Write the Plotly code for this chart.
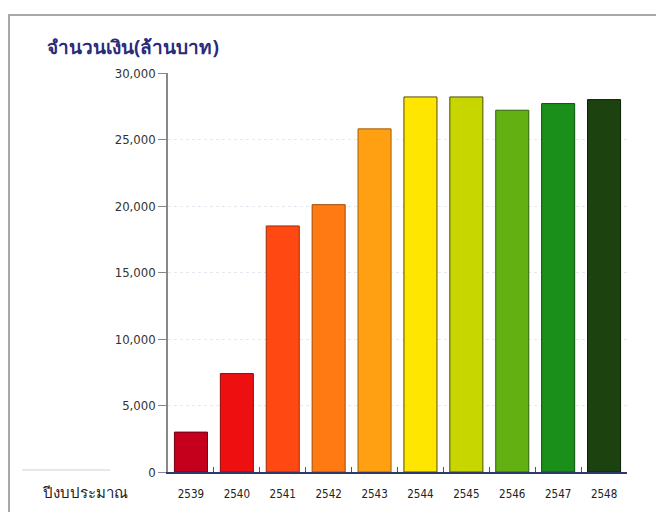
import plotly.graph_objects as go

years = ["2539", "2540", "2541", "2542", "2543", "2544", "2545", "2546", "2547", "2548"]
amounts = [3000, 7400, 18500, 20100, 25800, 28200, 28200, 27200, 27700, 28000]
bar_colors = ["#c4001c", "#ee1010", "#ff4812", "#ff7a12", "#ffa012",
              "#ffe600", "#c8d600", "#62b012", "#1a901a", "#1c4210"]
edge_colors = ["#700010", "#900808", "#a02a08", "#a04a08", "#a06008",
               "#5a4a00", "#4a5000", "#306008", "#0a500a", "#0a2006"]
y_ticks = [0, 5000, 10000, 15000, 20000, 25000, 30000]
y_tick_labels = ["0", "5,000", "10,000", "15,000", "20,000", "25,000", "30,000"]

fig = go.Figure()
fig.add_trace(go.Bar(
    x=years, y=amounts,
    marker=dict(color=bar_colors, line=dict(color=edge_colors, width=1)),
    width=0.72,
))

fig.update_layout(
    width=664, height=512,
    margin=dict(l=160, r=45, t=65, b=48),
    paper_bgcolor="white", plot_bgcolor="white",
    showlegend=False,
    font=dict(family="Liberation Sans Narrow, DejaVu Sans Condensed, sans-serif", size=11, color="#333333"),
    xaxis=dict(
        type="category",
        showline=True, linecolor="#2a3a6a", linewidth=1.5,
        ticks="inside", tickson="boundaries", ticklen=5, tickcolor="#555555",
        showgrid=False,
        tickfont=dict(size=11.5, color="#222222"),
        ticklabelstandoff=10,
    ),
    yaxis=dict(
        range=[0, 30000],
        tickvals=y_ticks, ticktext=y_tick_labels,
        showline=True, linecolor="#888888", linewidth=1.5,
        ticks="outside", ticklen=8, tickcolor="#888888",
        showgrid=True, gridcolor="#e4e8f0", griddash="dot", gridwidth=1,
        tickfont=dict(size=13, color="#333333", family="DejaVu Sans Condensed, sans-serif"),
        zeroline=False,
    ),
    shapes=[
        dict(type="rect", xref="paper", yref="paper",
             x0=-0.3464, x1=1.2, y0=-0.2, y1=1.1454,
             line=dict(color="#a8a8a8", width=2), layer="below"),
        dict(type="line", xref="paper", yref="paper",
             x0=-0.318, x1=-0.126, y0=0.005, y1=0.005,
             line=dict(color="#d0d0d0", width=1)),
    ],
    annotations=[
        dict(text="<b>จำนวนเงิน(ล้านบาท)</b>", xref="paper", yref="paper",
             x=-0.268, y=1.065, xanchor="left", yanchor="middle", showarrow=False,
             font=dict(size=19, color="#2b2b7a", family="Noto Sans, sans-serif")),
        dict(text="ปีงบประมาณ", xref="paper", yref="paper",
             x=-0.279, y=-0.05, xanchor="left", yanchor="middle", showarrow=False,
             font=dict(size=15, color="#222222", family="Noto Sans, sans-serif")),
    ],
)

fig.write_html("out.html")
